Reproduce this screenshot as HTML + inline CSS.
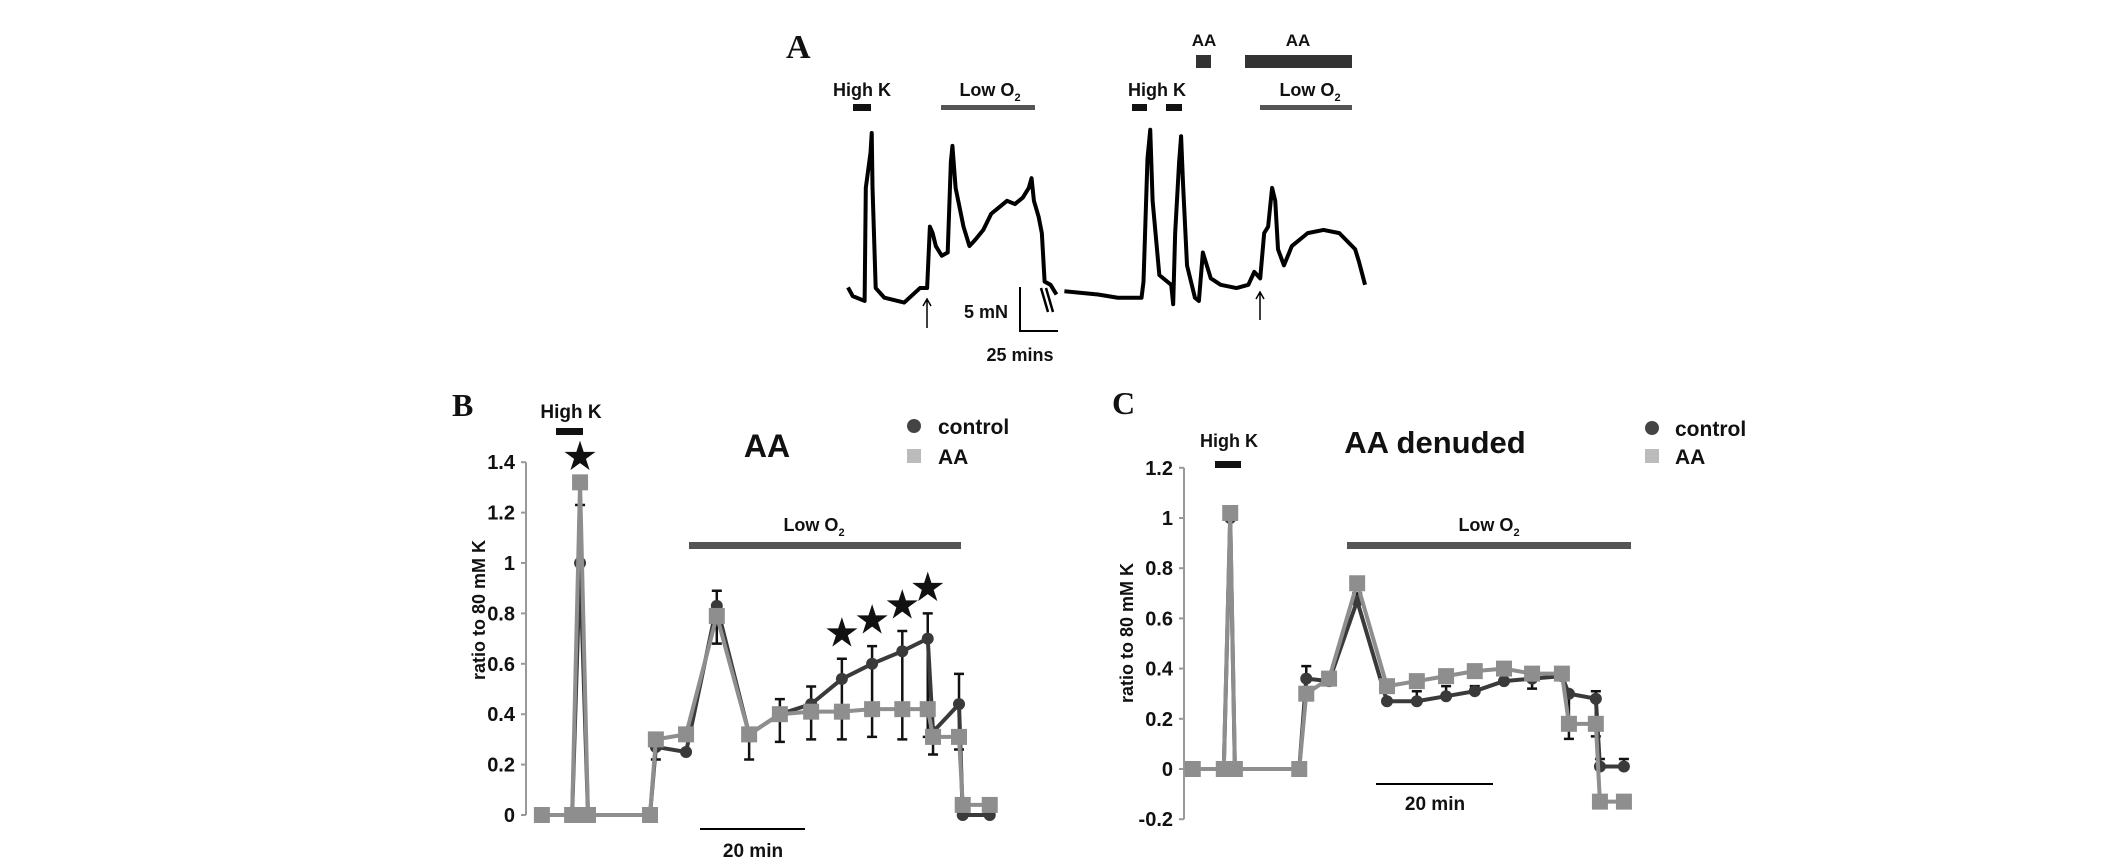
<!DOCTYPE html>
<html><head><meta charset="utf-8"><style>
body{margin:0;background:#fff}
svg{display:block}
text{font-family:"Liberation Sans",sans-serif;fill:#111;font-weight:bold}
</style></head><body>
<svg id="fig" width="2126" height="864" viewBox="0 0 2126 864">
<g id="panelA"></g>
<g id="panelB"></g>
<g id="panelC"></g>
</svg>
<script>
// ---- Panel B data (x = minutes, y = ratio) ----
const bTimes = [3.0, 8.7, 10.2, 11.7, 23.4, 24.5, 30.2, 36.0, 42.1, 47.9, 53.8, 59.6, 65.3, 71.0, 75.8, 76.8, 81.7, 82.4, 87.5];
const bControl = [0, 0, 1.0, 0, 0, 0.27, 0.25, 0.83, 0.32, 0.40, 0.44, 0.54, 0.60, 0.65, 0.70, 0.33, 0.44, 0.0, 0.0];
const bAA = [0, 0, 1.32, 0, 0, 0.30, 0.32, 0.79, 0.32, 0.40, 0.41, 0.41, 0.42, 0.42, 0.42, 0.31, 0.31, 0.04, 0.04];
const bErrUp = [0, 0, 1.23, 0, 0, 0.27, 0.25, 0.89, 0.32, 0.46, 0.51, 0.62, 0.67, 0.73, 0.80, 0.33, 0.56, 0.0, 0.0];
const bErrLo = [0, 0, 1.0, 0, 0, 0.22, 0.25, 0.68, 0.22, 0.29, 0.30, 0.30, 0.31, 0.30, 0.31, 0.24, 0.26, 0.0, 0.0];
const bTicks = [0, 0.2, 0.4, 0.6, 0.8, 1, 1.2, 1.4];
const bTickLabels = ["0", "0.2", "0.4", "0.6", "0.8", "1", "1.2", "1.4"];
const bStars = [2, 11, 12, 13, 14];

// ---- Panel C data ----
const cTimes = [1.5, 6.8, 7.9, 8.7, 19.7, 20.9, 24.8, 29.6, 34.7, 39.8, 44.8, 49.7, 54.7, 59.5, 64.6, 65.8, 70.4, 71.1, 75.2];
const cControl = [0, 0, 1.0, 0, 0, 0.36, 0.35, 0.67, 0.27, 0.27, 0.29, 0.31, 0.35, 0.36, 0.37, 0.30, 0.28, 0.01, 0.01];
const cAA = [0, 0, 1.02, 0, 0, 0.30, 0.36, 0.74, 0.33, 0.35, 0.37, 0.39, 0.40, 0.38, 0.38, 0.18, 0.18, -0.13, -0.13];
const cErrUp = [0, 0, 1.0, 0, 0, 0.41, 0.35, 0.70, 0.27, 0.31, 0.33, 0.33, 0.35, 0.36, 0.37, 0.30, 0.31, 0.04, 0.04];
const cErrLo = [0, 0, 1.0, 0, 0, 0.36, 0.35, 0.67, 0.27, 0.27, 0.29, 0.31, 0.35, 0.32, 0.37, 0.12, 0.13, 0.01, 0.01];
const cTicks = [-0.2, 0, 0.2, 0.4, 0.6, 0.8, 1, 1.2];
const cTickLabels = ["-0.2", "0", "0.2", "0.4", "0.6", "0.8", "1", "1.2"];

// ---- Panel A trace (time units, force units) ----
const aTime = [198,210,240,243,255,258,260,268,290,340,380,398,405,412,420,435,450,458,462,470,490,505,520,540,560,580,600,620,640,655,662,668,680,688,695,710,725];
const aForce = [868,895,910,560,450,390,560,870,900,915,870,870,680,700,740,770,760,480,430,560,680,740,720,690,640,620,600,610,590,560,530,600,650,700,850,860,890];
const aTime2 = [745,830,880,940,945,955,962,968,985,1015,1020,1025,1035,1040,1045,1055,1075,1085,1095,1100,1115,1140,1180,1210,1225,1240,1250,1260,1270,1278,1285,1300,1320,1360,1400,1440,1480,1490,1505];
const aForce2 = [880,890,900,900,850,470,380,600,830,860,920,700,480,400,550,800,900,910,760,780,840,860,870,860,820,840,700,680,560,600,750,800,740,700,690,700,750,790,860];

const NS = "http://www.w3.org/2000/svg";
function mk(parent, tag, attrs, txt){
  const e = document.createElementNS(NS, tag);
  for (const k in attrs) e.setAttribute(k, attrs[k]);
  if (txt !== undefined) e.textContent = txt;
  parent.appendChild(e);
  return e;
}

function panel(g, cfg){
  const xS = t => cfg.x0 + t * cfg.pxPerMin;
  const yS = v => cfg.y0 - v * cfg.pxPerUnit;
  const ax = mk(g, "line", {x1:cfg.x0, x2:cfg.x0, y1:yS(cfg.ticks[cfg.ticks.length-1]), y2:yS(cfg.ticks[0]), stroke:"#999", "stroke-width":2});
  
  
  cfg.ticks.forEach((v,i)=>{
    const tk = mk(g, "line", {x1:cfg.x0-5, x2:cfg.x0, y1:yS(v), y2:yS(v), stroke:"#999", "stroke-width":2});
    
    
    const tl = mk(g, "text", {x:cfg.x0-11, y:yS(v)+7, "text-anchor":"end", "font-size":20}, cfg.tickLabels[i]);
    
    
  });
  const series = [
    {vals:cfg.control, col:"#3a3a3a", name:"control"},
    {vals:cfg.aa, col:"#8e8e8e", name:"aa"}
  ];
  cfg.control.forEach((v,i)=>{
    const x = xS(cfg.times[i]);
    if (cfg.errUp[i] !== v || cfg.errLo[i] !== v){
      const eb = mk(g, "path", {d:`M${x},${yS(cfg.errUp[i])}V${yS(cfg.errLo[i])}M${x-5},${yS(cfg.errUp[i])}h10M${x-5},${yS(cfg.errLo[i])}h10`, stroke:"#111", "stroke-width":2.5, fill:"none"});
      
      
    }
  });
  series.forEach(s=>{
    const pts = s.vals.map((v,i)=>xS(cfg.times[i])+","+yS(v)).join(" ");
    const pl = mk(g, "polyline", {points:pts, fill:"none", stroke:s.col, "stroke-width":4});
    
    
    s.vals.forEach((v,i)=>{
      const x = xS(cfg.times[i]), y = yS(v);
      let m;
      if (s.name === "control"){
        m = mk(g, "circle", {cx:x, cy:y, r:6, fill:s.col});
      } else {
        m = mk(g, "rect", {x:x-8, y:y-8, width:16, height:16, fill:s.col});
      }
      
      
    });
  });
  if (cfg.stars){
    cfg.stars.forEach(i=>{
      const st = mk(g, "text", {x:xS(cfg.times[i]), y:yS(Math.max(cfg.errUp[i], cfg.aa[i]))-14, "text-anchor":"middle", "font-size":36, fill:"#000"}, "★");
      
      
    });
  }
}

panel(document.getElementById("panelB"), {x0:526, y0:815, pxPerMin:5.3, pxPerUnit:252,
  times:bTimes, control:bControl, aa:bAA, errUp:bErrUp, errLo:bErrLo, ticks:bTicks, tickLabels:bTickLabels, stars:bStars});
panel(document.getElementById("panelC"), {x0:1184, y0:769, pxPerMin:5.85, pxPerUnit:251,
  times:cTimes, control:cControl, aa:cAA, errUp:cErrUp, errLo:cErrLo, ticks:cTicks, tickLabels:cTickLabels});

(function(){
  const g = document.getElementById("panelA");
  const xA = t => 848 + (t-198)*0.3956, yA = f => 133 + (f-390)*0.323;
  const p1 = mk(g, "polyline", {points:aTime.map((t,i)=>xA(t)+","+yA(aForce[i])).join(" "), fill:"none", stroke:"#000", "stroke-width":4, "stroke-linejoin":"round"});
  
  
  const p2 = mk(g, "polyline", {points:aTime2.map((t,i)=>xA(t)+","+yA(aForce2[i])).join(" "), fill:"none", stroke:"#000", "stroke-width":4, "stroke-linejoin":"round"});
  
  
})();
</script>
<svg width="2126" height="864" style="position:absolute;left:0;top:0">
<!-- Panel A annotations -->
<text x="786" y="58" font-size="34" style="font-family:'Liberation Serif',serif">A</text>
<text x="862" y="96" text-anchor="middle" font-size="18">High K</text>
<rect x="853" y="104" width="18" height="7" fill="#111"/>
<text x="990" y="96" text-anchor="middle" font-size="18">Low O<tspan font-size="11" dy="5">2</tspan></text>
<rect x="941" y="105" width="94" height="5" fill="#555"/>
<text x="1157" y="96" text-anchor="middle" font-size="18">High K</text>
<rect x="1132" y="104" width="15" height="7" fill="#111"/>
<rect x="1166" y="104" width="16" height="7" fill="#111"/>
<text x="1204" y="46" text-anchor="middle" font-size="17">AA</text>
<rect x="1196" y="55" width="15" height="13" fill="#333"/>
<text x="1298" y="46" text-anchor="middle" font-size="17">AA</text>
<rect x="1245" y="55" width="107" height="13" fill="#333"/>
<text x="1310" y="96" text-anchor="middle" font-size="18">Low O<tspan font-size="11" dy="5">2</tspan></text>
<rect x="1260" y="105" width="92" height="5" fill="#555"/>
<path d="M1020,287V331H1058" stroke="#000" stroke-width="2" fill="none"/>
<text x="1008" y="318" text-anchor="end" font-size="18">5 mN</text>
<text x="1020" y="361" text-anchor="middle" font-size="18">25 mins</text>
<path d="M927,328V299M923,306L927,299L931,306" stroke="#000" stroke-width="1.5" fill="none"/>
<path d="M1260,320V292M1256,299L1260,292L1264,299" stroke="#000" stroke-width="1.5" fill="none"/>
<path d="M1041,288L1048,312M1046,288L1053,312" stroke="#000" stroke-width="2.5"/>
<!-- Panel B annotations -->
<text x="452" y="416" font-size="32" style="font-family:'Liberation Serif',serif">B</text>
<text x="571" y="418" text-anchor="middle" font-size="19">High K</text>
<rect x="556" y="428" width="27" height="7" fill="#111"/>
<text x="767" y="457" text-anchor="middle" font-size="32">AA</text>
<circle cx="914" cy="426" r="7" fill="#444"/>
<text x="938" y="434" font-size="21">control</text>
<rect x="907" y="449" width="14" height="14" fill="#bbb"/>
<text x="938" y="464" font-size="21">AA</text>
<text x="814" y="531" text-anchor="middle" font-size="18">Low O<tspan font-size="11" dy="5">2</tspan></text>
<rect x="689" y="542" width="272" height="7" fill="#555"/>
<line x1="700" x2="805" y1="829" y2="829" stroke="#000" stroke-width="2"/>
<text x="753" y="857" text-anchor="middle" font-size="19">20 min</text>
<text transform="translate(485,610) rotate(-90)" text-anchor="middle" font-size="18">ratio to 80 mM K</text>
<!-- Panel C annotations -->
<text x="1112" y="414" font-size="32" style="font-family:'Liberation Serif',serif">C</text>
<text x="1229" y="447" text-anchor="middle" font-size="18">High K</text>
<rect x="1215" y="461" width="26" height="7" fill="#111"/>
<text x="1435" y="453" text-anchor="middle" font-size="31">AA denuded</text>
<circle cx="1652" cy="428" r="7" fill="#444"/>
<text x="1675" y="436" font-size="21">control</text>
<rect x="1645" y="449" width="14" height="14" fill="#bbb"/>
<text x="1675" y="464" font-size="21">AA</text>
<text x="1489" y="531" text-anchor="middle" font-size="18">Low O<tspan font-size="11" dy="5">2</tspan></text>
<rect x="1347" y="542" width="284" height="7" fill="#555"/>
<line x1="1376" x2="1493" y1="784" y2="784" stroke="#000" stroke-width="2"/>
<text x="1435" y="810" text-anchor="middle" font-size="19">20 min</text>
<text transform="translate(1133,633) rotate(-90)" text-anchor="middle" font-size="18">ratio to 80 mM K</text>
</svg>
</body></html>
